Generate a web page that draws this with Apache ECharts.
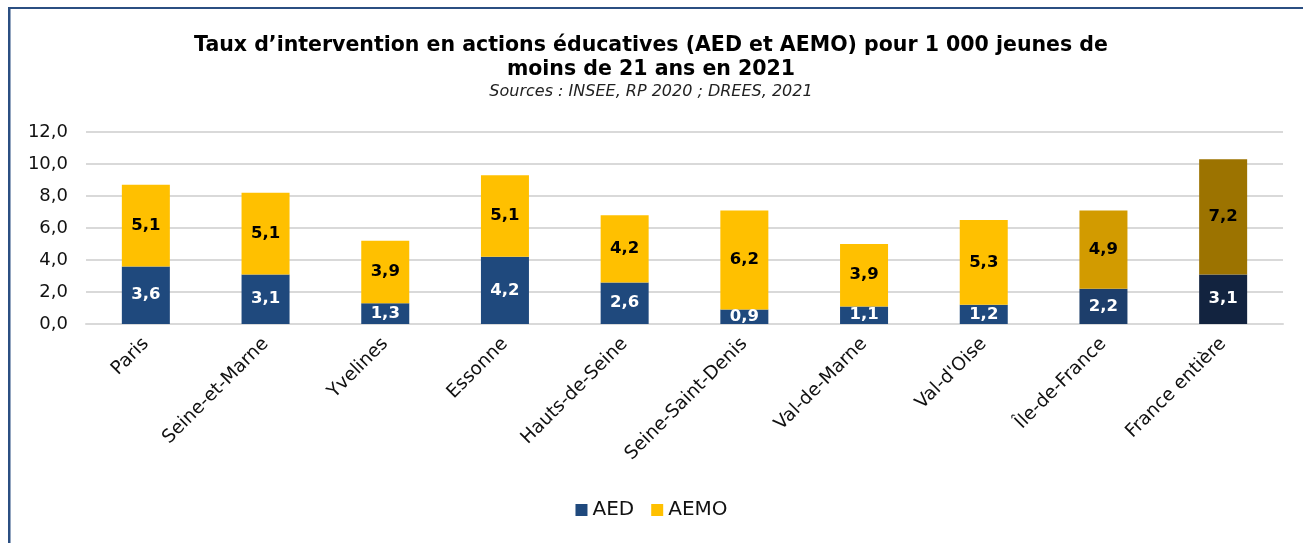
<!DOCTYPE html>
<html>
<head>
<meta charset="utf-8">
<script src="https://cdn.jsdelivr.net/npm/echarts@6/dist/echarts.min.js"></script>
<style>
  html, body { margin: 0; padding: 0; background: #fff; }
  #chart { width: 1303px; height: 543px; }
</style>
</head>
<body>
<div id="chart"></div>
<script>
var categories = ['Paris', 'Seine-et-Marne', 'Yvelines', 'Essonne', 'Hauts-de-Seine',
    'Seine-Saint-Denis', 'Val-de-Marne', "Val-d'Oise", 'Île-de-France', 'France entière'];
var aed = [3.6, 3.1, 1.3, 4.2, 2.6, 0.9, 1.1, 1.2, 2.2, 3.1];
var aemo = [5.1, 5.1, 3.9, 5.1, 4.2, 6.2, 3.9, 5.3, 4.9, 7.2];

// darker shades for the two aggregate bars
var aedColors = {8: '#1D3E6B', 9: '#12233F'};
var aemoColors = {8: '#D29B00', 9: '#9C7300'};

function fmt(v) {
    return v.toFixed(1).replace('.', ',');
}

function build(values, colors) {
    return values.map(function (v, i) {
        var item = {value: v};
        if (colors[i]) item.itemStyle = {color: colors[i]};
        return item;
    });
}

var myChart = echarts.init(document.getElementById('chart'));
var option = {
    backgroundColor: '#fff',
    textStyle: {fontFamily: 'DejaVu Sans'},
    title: {
        text: 'Taux d\u2019intervention en actions éducatives (AED et AEMO) pour 1 000 jeunes de\nmoins de 21 ans en 2021',
        subtext: 'Sources : INSEE, RP 2020 ; DREES, 2021',
        left: 646,
        textAlign: 'center',
        top: 29,
        itemGap: 2,
        textStyle: {fontSize: 20.5, fontWeight: 'bold', color: '#000', lineHeight: 24},
        subtextStyle: {fontSize: 16, fontStyle: 'italic', color: '#222'}
    },
    legend: {
        data: ['AED', 'AEMO'],
        bottom: 18,
        left: 'center',
        itemWidth: 12,
        itemHeight: 12,
        itemGap: 17,
        icon: 'rect',
        textStyle: {fontSize: 20, color: '#111'}
    },
    grid: {left: 86, right: 20, top: 132, bottom: 219},
    xAxis: {
        type: 'category',
        data: categories,
        axisTick: {show: false},
        axisLine: {lineStyle: {color: '#D9D9D9', width: 2}},
        axisLabel: {rotate: 45, fontSize: 18.5, color: '#111', margin: 17, interval: 0}
    },
    yAxis: {
        type: 'value',
        min: 0,
        max: 12,
        interval: 2,
        axisLabel: {fontSize: 18, color: '#111', margin: 18, formatter: fmt},
        splitLine: {lineStyle: {color: '#D9D9D9', width: 2}}
    },
    series: [
        {
            name: 'AED',
            type: 'bar',
            stack: 'tot',
            barWidth: 48,
            itemStyle: {color: '#1F497D'},
            label: {
                show: true, position: 'inside', color: '#fff', fontSize: 16.5, fontWeight: 'bold',
                formatter: function (p) { return fmt(p.value); }
            },
            data: build(aed, aedColors)
        },
        {
            name: 'AEMO',
            type: 'bar',
            stack: 'tot',
            barWidth: 48,
            itemStyle: {color: '#FFC000'},
            label: {
                show: true, position: 'inside', color: '#000', fontSize: 16.5, fontWeight: 'bold',
                formatter: function (p) { return fmt(p.value); }
            },
            data: build(aemo, aemoColors)
        }
    ],
    graphic: [
        {type: 'rect', shape: {x: 8, y: 7, width: 1300, height: 2}, style: {fill: '#2B4F82'}},
        {type: 'rect', shape: {x: 8, y: 7, width: 2.5, height: 540}, style: {fill: '#2B4F82'}}
    ]
};
myChart.setOption(option);
</script>
</body>
</html>
